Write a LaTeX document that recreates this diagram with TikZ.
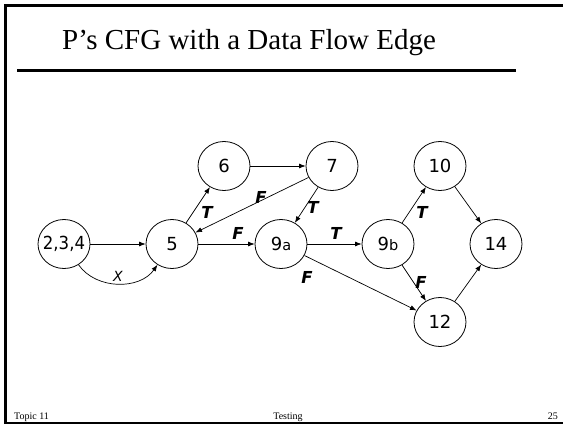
\documentclass[tikz,border=0pt]{standalone}
\usepackage{fontspec}
\usepackage{graphicx}
\setmainfont{Liberation Serif}
\newfontfamily\vsans{DejaVu Sans}
\usetikzlibrary{shapes.geometric,arrows.meta}
\newcommand{\zbox}[1]{\makebox[0pt]{#1}}
\begin{document}
\begin{tikzpicture}[x=1pt,y=-1pt,
  st/.style={ellipse,draw,line width=0.8pt,minimum width=52pt,minimum height=49pt,inner sep=0pt,
    font=\vsans\fontsize{18}{18}\selectfont},
  arr/.style={-{Latex[length=6.5pt,width=5pt]},line width=0.7pt},
  lab/.style={font=\vsans\bfseries\itshape\fontsize{16.5}{16.5}\selectfont,inner sep=0pt},
  foot/.style={font=\fontsize{10}{10}\selectfont,inner sep=0pt,anchor=base}]
\useasboundingbox (0,0) rectangle (563,426);
\draw[line width=2.6pt] (570,5.3) -- (5.3,5.3) -- (5.3,423) -- (570,423);
\node[anchor=base west,font=\fontsize{29}{29}\selectfont,inner sep=0pt] (title) at (62,49) {P’s CFG with a Data Flow Edge};
\draw[line width=3.6pt] (17,70.5) -- (516,70.5);
% nodes
\node[st] (n234) at (64,244) {\zbox{\scalebox{0.92}[1]{2,3,4}}};
\node[st] (n5) at (172,244) {\zbox{5}};
\node[st] (n6) at (224,166) {\zbox{6}};
\node[st] (n7) at (332,166) {\zbox{7}};
\node[st] (n9a) at (281,244) {\zbox{9{\fontsize{14.5}{14.5}\selectfont a}}};
\node[st] (n9b) at (388,244) {\zbox{9{\fontsize{14.5}{14.5}\selectfont b}}};
\node[st] (n10) at (440,166) {\zbox{10}};
\node[st] (n14) at (496,244) {\zbox{14}};
\node[st] (n12) at (440,322) {\zbox{12}};
% edges
\draw[arr] (n234) -- (n5);
\draw[arr] (n234) to[out=-55,in=-125] node[pos=0.5,above=1.5pt,font=\vsans\itshape\fontsize{14}{14}\selectfont,inner sep=0pt] (lx) {X} (n5);
\draw[arr] (n5) -- (n6);
\draw[arr] (n6) -- (n7);
\draw[arr] (n7) -- (n5);
\draw[arr] (n5) -- (n9a);
\draw[arr] (n7) -- (n9a);
\draw[arr] (n9a) -- (n9b);
\draw[arr] (n9a) -- (n12);
\draw[arr] (n9b) -- (n10);
\draw[arr] (n9b) -- (n12);
\draw[arr] (n10) -- (n14);
\draw[arr] (n12) -- (n14);
% labels
\node[lab] (t1) at (207,212) {T};
\node[lab] (f1) at (261,197) {F};
\node[lab] (f2) at (238,233) {F};
\node[lab] (t2) at (313,207) {T};
\node[lab] (t3) at (336,233) {T};
\node[lab] (f3) at (307,277) {F};
\node[lab] (t4) at (422,212) {T};
\node[lab] (f4) at (421,282) {F};
% footer
\node[foot,anchor=base west] (ft1) at (14,419) {Topic 11};
\node[foot] (ft2) at (288,419) {Testing};
\node[foot,anchor=base east] (ft3) at (558,419) {25};
\end{tikzpicture}
\end{document}
